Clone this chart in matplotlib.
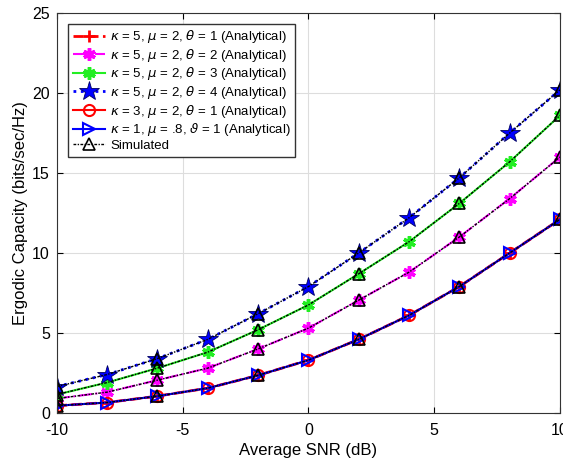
"""Ergodic capacity vs average SNR: analytical curves with simulated points"""
import numpy as np
import matplotlib
matplotlib.use('Agg')
import matplotlib.pyplot as plt

plt.rcParams['font.family'] = ['Liberation Sans', 'DejaVu Sans']
plt.rcParams['mathtext.fontset'] = 'dejavusans'
plt.rcParams['axes.unicode_minus'] = False

# %% Data
snr_db = [-10, -8, -6, -4, -2, 0, 2, 4, 6, 8, 10]
cap_k5_t1 = [0.45, 0.65, 1.05, 1.55, 2.35, 3.3, 4.6, 6.1, 7.9, 10.0, 12.1]
cap_k5_t2 = [0.9, 1.3, 2.05, 2.8, 4.0, 5.3, 7.05, 8.8, 11.0, 13.4, 16.0]
cap_k5_t3 = [1.15, 1.9, 2.8, 3.8, 5.2, 6.75, 8.7, 10.7, 13.1, 15.7, 18.6]
cap_k5_t4 = [1.65, 2.4, 3.4, 4.6, 6.2, 7.9, 10.0, 12.2, 14.7, 17.5, 20.2]
cap_k3_t1 = cap_k5_t1
cap_k1_t1 = cap_k5_t1

labels = [
    r'$\kappa$ = 5, $\mu$ = 2, $\theta$ = 1 (Analytical)',
    r'$\kappa$ = 5, $\mu$ = 2, $\theta$ = 2 (Analytical)',
    r'$\kappa$ = 5, $\mu$ = 2, $\theta$ = 3 (Analytical)',
    r'$\kappa$ = 5, $\mu$ = 2, $\theta$ = 4 (Analytical)',
    r'$\kappa$ = 3, $\mu$ = 2, $\theta$ = 1 (Analytical)',
    r'$\kappa$ = 1, $\mu$ = .8, $\vartheta$ = 1 (Analytical)',
    'Simulated',
]

# %% Plot
fig = plt.figure(figsize=(5.63, 4.65), dpi=100)
ax = fig.add_axes([0.101, 0.112, 0.8937, 0.86])

x = np.array(snr_db)
ax.plot(x, cap_k5_t1, color='red', ls='--', lw=2, marker='+', ms=9, mew=2,
        label=labels[0])
ax.plot(x, cap_k5_t2, color='magenta', ls='-.', lw=1.5, marker=(6, 2, 0), ms=9, mew=2.5,
        label=labels[1])
ax.plot(x, cap_k5_t3, color='#22ee22', ls='-', lw=1.5, marker=(6, 2, 0), ms=9, mew=2.5,
        label=labels[2])
ax.plot(x, cap_k5_t4, color='blue', ls=':', lw=2, marker='*', ms=15, mec='#000060', mew=0.6,
        label=labels[3])
ax.plot(x, cap_k3_t1, color='red', ls='-', lw=1.5, marker='o', ms=8, mfc='none', mew=1.5,
        label=labels[4])
ax.plot(x, cap_k1_t1, color='blue', ls='-', lw=1.5, marker='>', ms=9, mfc='none', mew=1.5,
        label=labels[5])

# simulated curves, markers on every other point
for ii, cap in enumerate([cap_k5_t1, cap_k5_t2, cap_k5_t3, cap_k5_t4]):
    ax.plot(x, cap, color='black', ls=(0, (2, 1, 1, 1)), lw=1,
            marker='^', ms=9, mfc='none', mew=1.2, markevery=2,
            label=labels[6] if ii == 0 else None)

ax.set_xlim(-10, 10)
ax.set_ylim(0, 25)
ax.set_xticks([-10, -5, 0, 5, 10])
ax.set_yticks([0, 5, 10, 15, 20, 25])
ax.tick_params(direction='in', top=True, right=True, labelsize=11.5, length=4)
ax.tick_params(axis='x', pad=7)
ax.tick_params(axis='y', pad=5)
ax.grid(True, color='#dddddd', lw=0.8)
ax.set_axisbelow(True)
for spine in ax.spines.values():
    spine.set_color('#333333')

ax.set_xlabel('Average SNR (dB)', fontsize=12, labelpad=4)
ax.set_ylabel('Ergodic Capacity (bits/sec/Hz)', fontsize=12, labelpad=3)

leg = ax.legend(loc='upper left', fontsize=9.5, handlelength=2.4, labelspacing=0.12,
                handletextpad=0.4, borderpad=0.35, fancybox=False, framealpha=1,
                edgecolor='#333333', bbox_to_anchor=(0.01, 0.99))

fig.savefig('out.png', dpi=100)
